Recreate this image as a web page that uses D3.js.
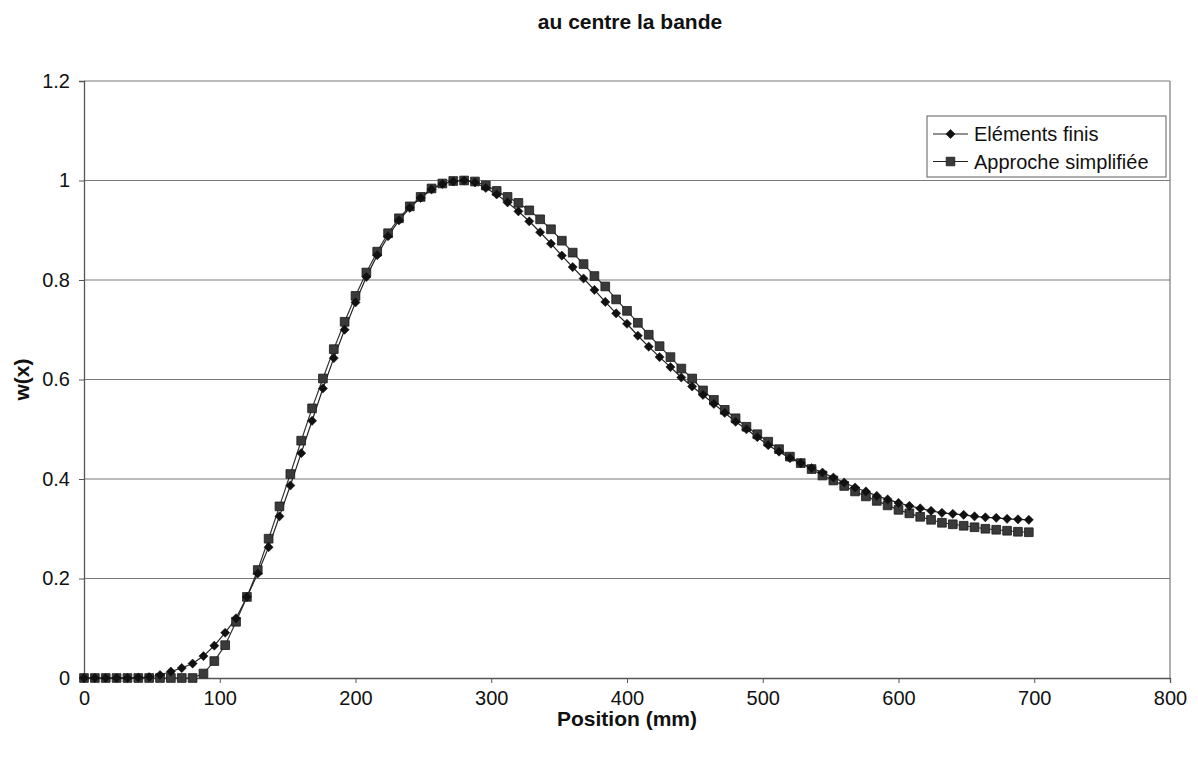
<!DOCTYPE html>
<html>
<head>
<meta charset="utf-8">
<script src="https://cdn.jsdelivr.net/npm/d3@7"></script>
<style>
  html, body { margin: 0; padding: 0; background: #fff; }
  svg { display: block; font-family: "Liberation Sans", Arial, sans-serif; }
</style>
</head>
<body>
<svg id="chart" width="1198" height="758"></svg>
<script>
// ---------- data ----------
const title = "au centre la bande";
const xLabel = "Position (mm)";
const yLabel = "w(x)";
const seriesNames = ["Eléments finis", "Approche simplifiée"];

const positions = [
  0, 8, 16, 24, 32, 40, 48, 56, 64, 72, 80, 88, 96, 104, 112, 120, 128, 136, 144, 152,
  160, 168, 176, 184, 192, 200, 208, 216, 224, 232, 240, 248, 256, 264, 272, 280, 288, 296, 304, 312,
  320, 328, 336, 344, 352, 360, 368, 376, 384, 392, 400, 408, 416, 424, 432, 440, 448, 456, 464, 472,
  480, 488, 496, 504, 512, 520, 528, 536, 544, 552, 560, 568, 576, 584, 592, 600, 608, 616, 624, 632,
  640, 648, 656, 664, 672, 680, 688, 696
];

const elementsFinis = [
  0, 0, 0, 0, 0, 0.001, 0.002, 0.006, 0.013, 0.02, 0.029, 0.044, 0.065, 0.091, 0.12, 0.163, 0.21, 0.263, 0.325, 0.387,
  0.452, 0.517, 0.582, 0.643, 0.70, 0.755, 0.806, 0.85, 0.888, 0.92, 0.945, 0.965, 0.982, 0.993, 0.998, 1.0, 0.996, 0.985, 0.972, 0.956,
  0.938, 0.918, 0.896, 0.873, 0.849, 0.826, 0.803, 0.78, 0.756, 0.733, 0.712, 0.688, 0.666, 0.645, 0.625, 0.604, 0.586, 0.569, 0.551, 0.533,
  0.515, 0.50, 0.484, 0.468, 0.455, 0.442, 0.432, 0.422, 0.413, 0.403, 0.393, 0.383, 0.375, 0.366, 0.359, 0.352, 0.346, 0.341, 0.336, 0.332,
  0.33, 0.328, 0.325, 0.323, 0.322, 0.32, 0.319, 0.318
];

const approcheSimplifiee = [
  0, 0, 0, 0, 0, 0, 0, 0, 0, 0, 0, 0.009, 0.034, 0.066, 0.113, 0.163, 0.217, 0.28, 0.345, 0.41,
  0.477, 0.542, 0.602, 0.661, 0.716, 0.768, 0.815, 0.857, 0.894, 0.924, 0.948, 0.967, 0.984, 0.994, 0.999, 1.0, 0.998, 0.99, 0.979, 0.967,
  0.955, 0.94, 0.922, 0.902, 0.879, 0.855, 0.832, 0.808, 0.787, 0.761, 0.738, 0.714, 0.69, 0.667, 0.645, 0.622, 0.602, 0.578, 0.559, 0.539,
  0.522, 0.505, 0.49, 0.475, 0.46, 0.445, 0.432, 0.42, 0.407, 0.397, 0.386, 0.375, 0.365, 0.356, 0.347, 0.338, 0.331, 0.324, 0.318, 0.312,
  0.309, 0.306, 0.303, 0.30, 0.298, 0.296, 0.294, 0.293
];

const xTicks = [0, 100, 200, 300, 400, 500, 600, 700, 800];
const yTicks = [0, 0.2, 0.4, 0.6, 0.8, 1, 1.2];

// ---------- layout ----------
const svg = d3.select("#chart");
const pLeft = 84, pRight = 1170, pTop = 81, pBottom = 678;

const x = d3.scaleLinear().domain([0, 800]).range([pLeft, pRight]);
const y = d3.scaleLinear().domain([0, 1.2]).range([pBottom, pTop]);

// gridlines
svg.append("g")
  .selectAll("line")
  .data(yTicks.filter(d => d > 0))
  .join("line")
  .attr("x1", pLeft).attr("x2", pRight)
  .attr("y1", d => y(d)).attr("y2", d => y(d))
  .attr("stroke", "#7a7a7a").attr("stroke-width", 1.2);

// right border
svg.append("line")
  .attr("x1", pRight).attr("x2", pRight).attr("y1", pTop).attr("y2", pBottom)
  .attr("stroke", "#7a7a7a").attr("stroke-width", 1.2);

// axes
const xAxis = d3.axisBottom(x).tickValues(xTicks).tickSize(5).tickPadding(8).tickFormat(d3.format("d"));
const yAxis = d3.axisLeft(y).tickValues(yTicks).tickSize(5).tickPadding(9).tickFormat(d3.format("~g"));

const gx = svg.append("g").attr("transform", `translate(0,${pBottom})`).call(xAxis);
const gy = svg.append("g").attr("transform", `translate(${pLeft},0)`).call(yAxis);
[gx, gy].forEach(g => {
  g.select(".domain").attr("stroke", "#555").attr("stroke-width", 1.3);
  g.selectAll(".tick line").attr("stroke", "#555");
  g.selectAll(".tick text").attr("fill", "#111").style("font-size", "20px")
    .style("font-family", "'Liberation Sans', Arial, sans-serif");
});

// series
const dataF = positions.map((p, i) => ({ x: p, y: elementsFinis[i] }));
const dataS = positions.map((p, i) => ({ x: p, y: approcheSimplifiee[i] }));
const line = d3.line().x(d => x(d.x)).y(d => y(d.y));

svg.append("path").datum(dataS).attr("d", line)
  .attr("fill", "none").attr("stroke", "#333").attr("stroke-width", 1.2);
svg.append("path").datum(dataF).attr("d", line)
  .attr("fill", "none").attr("stroke", "#222").attr("stroke-width", 1.2);

const squareSym = d3.symbol().type(d3.symbolSquare).size(76);
const diamondSym = d3.symbol().type(d3.symbolSquare).size(42);

svg.append("g").selectAll("path").data(dataS).join("path")
  .attr("d", squareSym)
  .attr("transform", d => `translate(${x(d.x)},${y(d.y)})`)
  .attr("fill", "#3a3a3a").attr("stroke", "#1a1a1a").attr("stroke-width", 0.8);

svg.append("g").selectAll("path").data(dataF).join("path")
  .attr("d", diamondSym)
  .attr("transform", d => `translate(${x(d.x)},${y(d.y)}) rotate(45)`)
  .attr("fill", "#111").attr("stroke", "#111").attr("stroke-width", 0.5);

// title and axis labels
svg.append("text").attr("x", 630).attr("y", 29).attr("text-anchor", "middle")
  .style("font-size", "21px").style("font-weight", "bold").attr("fill", "#111").text(title);
svg.append("text").attr("x", (pLeft + pRight) / 2).attr("y", 726).attr("text-anchor", "middle")
  .style("font-size", "21px").style("font-weight", "bold").attr("fill", "#111").text(xLabel);
svg.append("text").attr("transform", `translate(29,${(pTop + pBottom) / 2}) rotate(-90)`)
  .attr("text-anchor", "middle")
  .style("font-size", "21px").style("font-weight", "bold").attr("fill", "#111").text(yLabel);

// legend
const lg = svg.append("g");
lg.append("rect").attr("x", 927).attr("y", 116).attr("width", 239).attr("height", 61)
  .attr("fill", "#fff").attr("stroke", "#777").attr("stroke-width", 1.2);
const legendRows = [
  { name: seriesNames[0], sym: diamondSym, rot: 45, fill: "#111" },
  { name: seriesNames[1], sym: squareSym, rot: 0, fill: "#3a3a3a" }
];
legendRows.forEach((r, i) => {
  const cy = 134 + i * 27.5;
  lg.append("line").attr("x1", 933).attr("x2", 968).attr("y1", cy).attr("y2", cy)
    .attr("stroke", "#222").attr("stroke-width", 1.2);
  lg.append("path").attr("d", r.sym).attr("transform", `translate(950.5,${cy}) rotate(${r.rot})`)
    .attr("fill", r.fill).attr("stroke", "#111").attr("stroke-width", 0.6);
  lg.append("text").attr("x", 974).attr("y", cy + 7)
    .style("font-size", "20px").attr("fill", "#111").text(r.name);
});
</script>
</body>
</html>
